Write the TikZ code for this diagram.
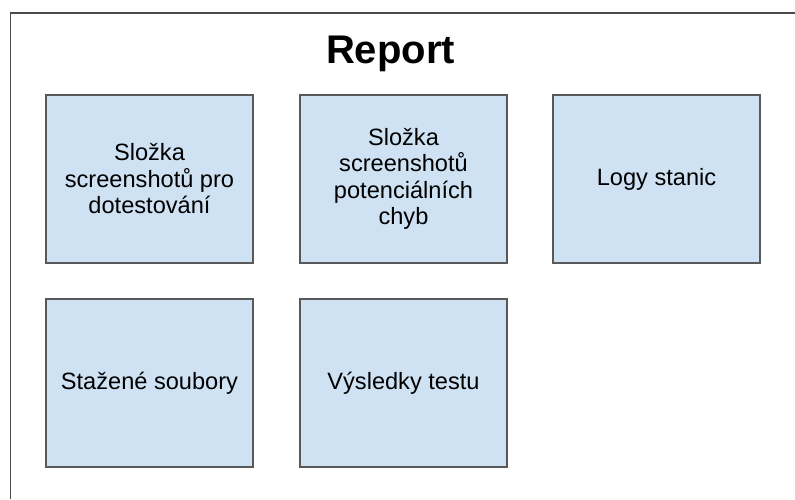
\documentclass[tikz,border=0pt]{standalone}
\usepackage{fontspec}
\setmainfont{Liberation Sans}
\definecolor{boxfill}{HTML}{CFE2F3}
\definecolor{boxline}{HTML}{595959}
\definecolor{frameline}{HTML}{4A4A4A}
\begin{document}
\begin{tikzpicture}[x=1pt,y=-1pt,
  folder/.style={draw=boxline,fill=boxfill,line width=1.4pt,
    minimum width=207pt,minimum height=168pt,inner sep=0pt,
    align=center,font=\fontsize{23.6}{26.5}\selectfont}]
\useasboundingbox (0,0) rectangle (795,499);
\draw[line width=1.5pt,frameline] (795,13) -- (10.5,13) -- (10.5,499);

\node[anchor=base,font=\fontsize{40}{48}\selectfont\bfseries] (report) at (390.5,63) {Report};

\foreach \n/\x/\y/\lab in {
slozkaA/149.5/179/{Složka\\screenshotů pro\\dotestování},
slozkaB/403.5/179/{Složka\\screenshotů\\potenciálních\\chyb},
logy/656.5/179/{Logy stanic},
stazene/149.5/383/{Stažené soubory},
vysledky/403.5/383/{Výsledky testu}}
{
    \node[folder] (\n) at (\x,\y) {\lab};
}
\end{tikzpicture}
\end{document}
